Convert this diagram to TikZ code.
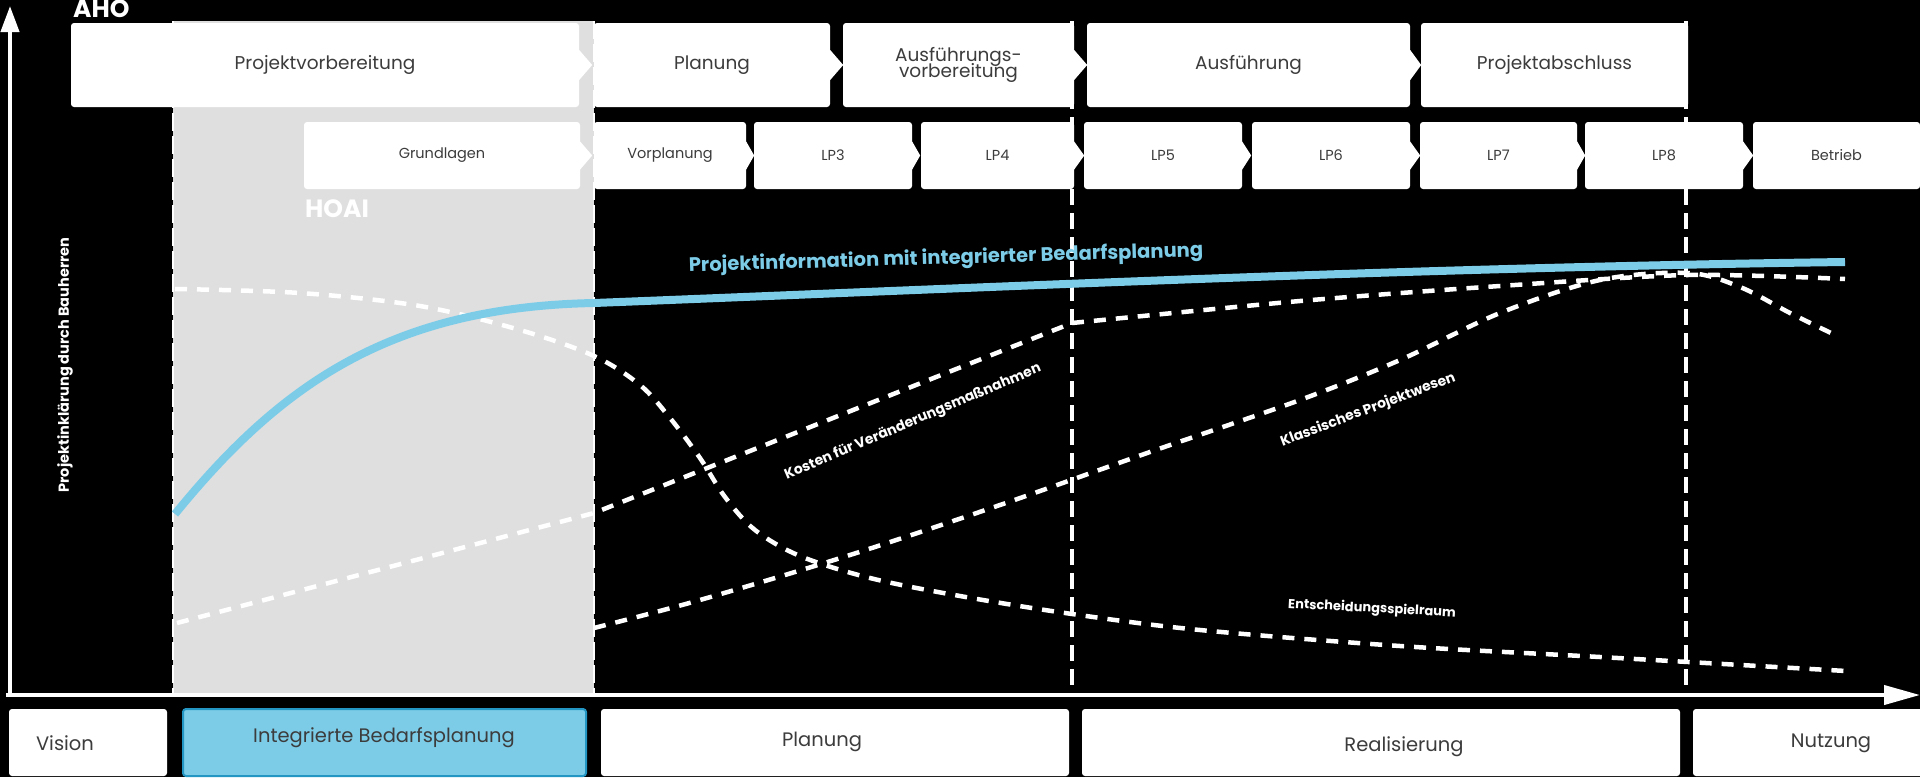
\documentclass[tikz,border=0pt]{standalone}
\usepackage{fontspec}
\setmainfont{Poppins}
\usetikzlibrary{arrows.meta}
\definecolor{hoaigray}{RGB}{223,223,223}
\definecolor{skyblue}{RGB}{124,204,232}
\definecolor{skyedge}{RGB}{35,150,195}
\definecolor{boxtext}{RGB}{60,60,60}
\newcommand{\tipR}[3]{\fill[white] ([yshift=#3]#1.east) -- ([xshift=#2]#1.east) -- ([yshift=-#3]#1.east) -- cycle;}
\begin{document}
\begin{tikzpicture}[x=1pt,y=-1pt,
  phase/.style={fill=white, rounded corners=3pt, inner sep=0pt, text=boxtext, font=\fontsize{18.5}{20}\selectfont, align=center, minimum height=84pt},
  lpbox/.style={fill=white, rounded corners=3pt, inner sep=0pt, text=boxtext, font=\fontsize{14.5}{16}\selectfont, minimum height=67pt},
  lowbox/.style={fill=white, rounded corners=3pt, inner sep=0pt, minimum height=67pt},
  lowtext/.style={text=boxtext, font=\fontsize{19.5}{22}\selectfont, inner sep=0pt},
  vdash/.style={white, line width=4pt, dash pattern=on 16pt off 8pt},
  edash/.style={white, line width=2.5pt, dash pattern=on 18pt off 5pt},
  cdash/.style={white, line width=4.5pt, dash pattern=on 12pt off 10pt},
  curvelabel/.style={text=white, font=\bfseries\fontsize{14}{16}\selectfont, inner sep=0pt},
  biglabel/.style={text=white, font=\bfseries\fontsize{25}{27}\selectfont, inner sep=0pt}
]
\useasboundingbox (0,0) rectangle (1920,777);
\fill[black] (0,0) rectangle (1920,777);

% HOAI grey band
\fill[hoaigray] (173,21) rectangle (594,693);
\coordinate (gl1) at (173,21); \coordinate (gl2) at (173,693);
\coordinate (gr1) at (594,21); \coordinate (gr2) at (594,693);
\draw[edash] (gl1) -- (gl2);
\draw[edash] (gr1) -- (gr2);

% vertical phase separators
\coordinate (v1t) at (1072,21); \coordinate (v1b) at (1072,693);
\coordinate (v2t) at (1686,21); \coordinate (v2b) at (1686,693);
\draw[vdash] (v1t) -- (v1b);
\draw[vdash] (v2t) -- (v2b);

% axes
\coordinate (yb) at (10,697); \coordinate (yt) at (10,6);
\coordinate (xb) at (6,695); \coordinate (xt) at (1920,695);
\draw[white, line width=4pt, -{Triangle[length=26pt,width=18pt]}] (yb) -- (yt);
\draw[white, line width=4pt, -{Triangle[length=36pt,width=19pt]}] (xb) -- (xt);

% AHO phases
\node[phase, minimum width=508pt] (pv) at (325,65) {Projektvorbereitung};
\node[phase, minimum width=236pt] (pl) at (712,65) {Planung};
\node[phase, minimum width=231pt] (av) at (958.5,65) {Ausführungs-\\[-4pt]vorbereitung};
\node[phase, minimum width=323pt] (au) at (1248.5,65) {Ausführung};
\node[phase, minimum width=267pt] (pa) at (1554.5,65) {Projektabschluss};
\tipR{pv}{13pt}{15pt}
\tipR{pl}{13pt}{15pt}
\tipR{av}{13pt}{15pt}
\tipR{au}{11pt}{15pt}

% HOAI phases
\node[lpbox, minimum width=276pt] (gr) at (442,155.5) {Grundlagen};
\node[lpbox, minimum width=152pt] (vp) at (670,155.5) {Vorplanung};
\node[lpbox, minimum width=158pt] (lp3) at (833,155.5) {LP3};
\node[lpbox, minimum width=153pt] (lp4) at (997.5,155.5) {LP4};
\node[lpbox, minimum width=158pt] (lp5) at (1163,155.5) {LP5};
\node[lpbox, minimum width=158pt] (lp6) at (1331,155.5) {LP6};
\node[lpbox, minimum width=157pt] (lp7) at (1498.5,155.5) {LP7};
\node[lpbox, minimum width=158pt] (lp8) at (1664,155.5) {LP8};
\node[lpbox, minimum width=167pt] (be) at (1836.5,155.5) {Betrieb};
\tipR{gr}{12pt}{14pt}
\tipR{vp}{8pt}{14pt}
\tipR{lp3}{8pt}{14pt}
\tipR{lp4}{10pt}{14pt}
\tipR{lp5}{9pt}{14pt}
\tipR{lp6}{10pt}{14pt}
\tipR{lp7}{8pt}{14pt}
\tipR{lp8}{10pt}{14pt}

\node[biglabel, anchor=base west] (aho) at (73,17) {AHO};
\node[biglabel, anchor=base west] (hoai) at (305,217) {HOAI};

% curves
\draw[cdash] plot[smooth, tension=0.55] coordinates {(175,289) (300,293) (420,306) (520,330) (594,356) (640,385) (670,418) (700,458) (725,497) (755,530) (800,556) (870,578) (960,596) (1072,614) (1200,630) (1400,646) (1600,657) (1846,671)};
\draw[cdash] (177,623) -- (594,513) -- (1072,323);
\draw[cdash] plot[smooth, tension=0.5] coordinates {(1072,323) (1300,301) (1500,286) (1688,275) (1845,279)};
\draw[cdash] plot[smooth, tension=0.55] coordinates {(594,628) (700,600) (850,555) (1000,505) (1150,452) (1300,400) (1400,360) (1500,313) (1600,280) (1688,273) (1740,287) (1790,313) (1831,333)};
\draw[skyblue, line width=8pt, line cap=butt] (175,514) .. controls (280,385) and (390,307) .. (594,303) .. controls (1000,287) and (1400,268) .. (1845,262);

% curve labels
\node[text=skyblue, font=\bfseries\fontsize{19.5}{21}\selectfont, inner sep=0pt, rotate=1.7] (pinfo) at (946,259) {Projektinformation mit integrierter Bedarfsplanung};
\node[curvelabel, rotate=23] (kosten) at (913,422) {Kosten für Veränderungsmaßnahmen};
\node[curvelabel, rotate=20.7] (klass) at (1368,410) {Klassisches Projektwesen};
\node[curvelabel, font=\bfseries\fontsize{13}{15}\selectfont, rotate=-3] (ent) at (1372,609) {Entscheidungsspielraum};
\node[curvelabel, font=\bfseries\fontsize{14.5}{16}\selectfont, rotate=90] (ylab) at (65,365) {Projektinklärung durch Bauherren};

% bottom row
\node[lowbox, minimum width=158pt] (vis) at (88,742.5) {};
\node[lowbox, minimum width=403pt, fill=skyblue, draw=skyedge, line width=2pt] (ibp) at (384.5,742.5) {};
\node[lowbox, minimum width=468pt] (plb) at (835,742.5) {};
\node[lowbox, minimum width=598pt] (rea) at (1381,742.5) {};
\node[lowbox, minimum width=240pt] (nu) at (1813,742.5) {};
\node[lowtext] (tvis) at (65,743) {Vision};
\node[lowtext] (tibp) at (384,738) {Integrierte Bedarfsplanung};
\node[lowtext] (tplb) at (822,742) {Planung};
\node[lowtext] (trea) at (1404,747) {Realisierung};
\node[lowtext] (tnu) at (1831,743) {Nutzung};
\end{tikzpicture}
\end{document}
